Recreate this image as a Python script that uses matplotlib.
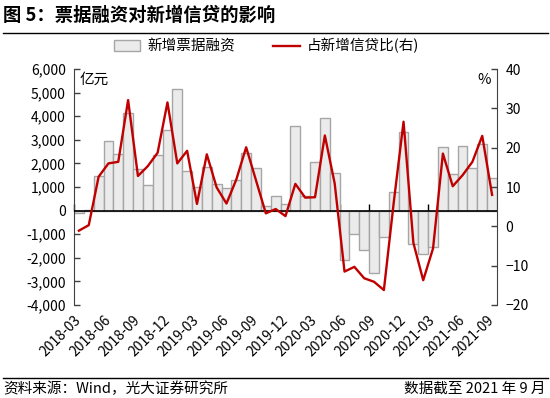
import matplotlib
matplotlib.use("Agg")
import matplotlib.pyplot as plt
from matplotlib.patches import Patch
from matplotlib.lines import Line2D
import numpy as np

plt.rcParams['font.family'] = ['Noto Sans CJK SC', 'DejaVu Sans']

# ---------------- data ----------------
months = ['2018-03', '2018-04', '2018-05', '2018-06', '2018-07', '2018-08', '2018-09', '2018-10',
          '2018-11', '2018-12', '2019-01', '2019-02', '2019-03', '2019-04', '2019-05', '2019-06',
          '2019-07', '2019-08', '2019-09', '2019-10', '2019-11', '2019-12', '2020-01', '2020-02',
          '2020-03', '2020-04', '2020-05', '2020-06', '2020-07', '2020-08', '2020-09', '2020-10',
          '2020-11', '2020-12', '2021-01', '2021-02', '2021-03', '2021-04', '2021-05', '2021-06',
          '2021-07', '2021-08', '2021-09']
bill_financing = [-110, 30, 1460, 2960, 2390, 4120, 1760, 1080, 2360, 3410, 5170,
                  1690, 1000, 1860, 1140, 970, 1300, 2430, 1790, 210, 620, 265,
                  3600, 630, 2070, 3910, 1580, -2090, -990, -1670, -2630, -1130,
                  800, 3340, -1410, -1850, -1530, 2680, 1540, 2740, 1790, 2810, 1370]
share_pct = [-1.1, 0.3, 12.6, 16.0, 16.4, 32.1, 12.8, 15.3, 18.7, 31.5, 16.0,
             19.2, 5.7, 18.3, 9.9, 5.8, 11.9, 20.1, 11.7, 3.3, 4.4, 2.6,
             10.8, 7.3, 7.4, 23.1, 10.9, -11.5, -10.3, -13.2, -14.1, -16.2,
             6.0, 26.6, -4.2, -13.7, -5.6, 18.5, 10.2, 13.0, 16.4, 23.0, 8.0]
tick_labels = months[::3]

title = '图 5：票据融资对新增信贷的影响'
source = '资料来源：Wind，光大证券研究所'
note = '数据截至 2021 年 9 月'

# ---------------- figure ----------------
W, H = 550, 398
fig = plt.figure(figsize=(W / 100, H / 100), dpi=100)
ax = fig.add_axes([74 / W, 1 - 305 / H, (497 - 74) / W, (305 - 69) / H])
ax2 = ax.twinx()

x = np.arange(len(months))
spine_c = '#404040'

ax.bar(x, bill_financing, width=1.0, color='#ebebeb', edgecolor='#a6a6a6', linewidth=1.0, zorder=2)
ax.axhline(0, color='black', linewidth=1.2, zorder=3)
ax2.plot(x, share_pct, color='#c00000', linewidth=1.7, zorder=4)

ax.set_xlim(-0.5, len(months) - 0.5)
ax.set_ylim(-4000, 6000)
ax2.set_ylim(-20, 40)
ax.set_yticks(np.arange(-4000, 6001, 1000))
ax.set_yticklabels([f'{v:,}' for v in range(-4000, 6001, 1000)])
ax2.set_yticks(np.arange(-20, 41, 10))

for a in (ax, ax2):
    a.spines['top'].set_visible(False)
    a.spines['left'].set_color(spine_c)
    a.spines['right'].set_color(spine_c)
ax2.spines['left'].set_visible(False)
ax2.spines['bottom'].set_visible(False)
ax.spines['right'].set_visible(False)

ax.tick_params(axis='y', direction='in', length=4, width=1, color=spine_c, labelsize=10, pad=6)
ax2.tick_params(axis='y', direction='in', length=4, width=1, color=spine_c, labelsize=10, pad=6)

ax.spines['bottom'].set_position(('data', 0))
ax.spines['bottom'].set_color('none')
tick_pos = x[::3] - 0.5
ax.set_xticks(tick_pos)
ax.set_xticklabels(tick_labels, rotation=45, ha='right', rotation_mode='anchor')
ax.tick_params(axis='x', direction='in', length=5, width=1, color='black', labelsize=10, pad=74)

ax.text(0.012, 0.955, '亿元', transform=ax.transAxes, fontsize=10.5, va='center', ha='left')
ax2.text(0.985, 0.955, '%', transform=ax2.transAxes, fontsize=10.5, va='center', ha='right')

# legend
handles = [Patch(facecolor='#ebebeb', edgecolor='#a6a6a6', linewidth=1.0),
           Line2D([0], [0], color='#c00000', linewidth=1.7)]
fig.legend(handles, ['新增票据融资', '占新增信贷比(右)'], loc='center', bbox_to_anchor=(0.485, 1 - 46 / H),
           ncol=2, frameon=False, fontsize=10.5, columnspacing=2.6, handlelength=1.8, handletextpad=0.5)

# title and footer
fig.text(3 / W, 1 - 15 / H, title, fontsize=13.2, fontweight='bold', va='center', ha='left')
fig.add_artist(Line2D([3 / W, 548 / W], [1 - 33 / H, 1 - 33 / H], color='black', linewidth=1.0))
fig.add_artist(Line2D([3 / W, 548 / W], [1 - 378 / H, 1 - 378 / H], color='black', linewidth=1.0))
fig.text(3 / W, 1 - 389 / H, source, fontsize=10.5, va='center', ha='left')
fig.text(546 / W, 1 - 389 / H, note, fontsize=10.5, va='center', ha='right')

fig.savefig('out.png', dpi=100)
